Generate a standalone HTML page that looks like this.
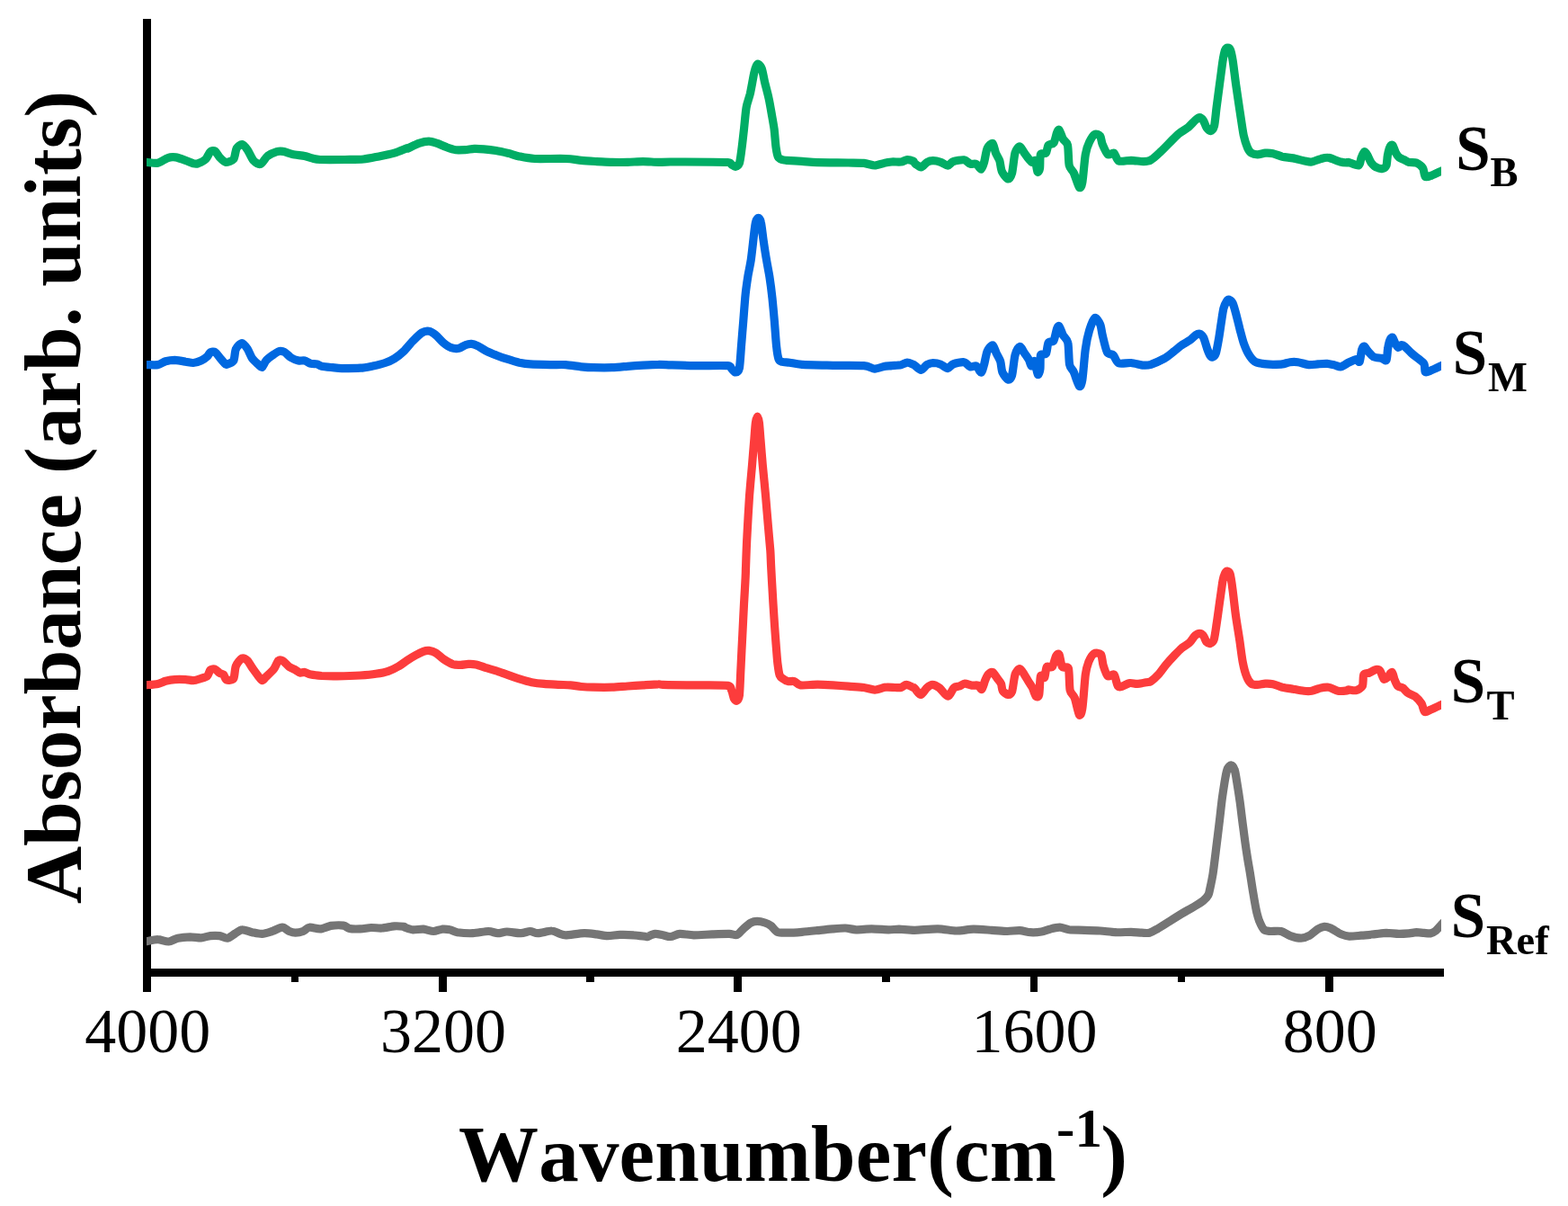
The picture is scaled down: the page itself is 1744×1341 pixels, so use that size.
<!DOCTYPE html>
<html lang="en">
<head>
<meta charset="utf-8">
<title>Absorbance vs Wavenumber</title>
<style>
html,body{margin:0;padding:0;background:#fff;}
body{width:1744px;height:1341px;overflow:hidden;}
svg{display:block;}
</style>
</head>
<body>
<svg width="1744" height="1341" viewBox="0 0 1744 1341">
<rect width="1744" height="1341" fill="#ffffff"/>
<g fill="#000000" shape-rendering="crispEdges">
<rect x="159" y="21" width="9" height="1081.5"/>
<rect x="159" y="1077" width="1447" height="9"/>
<rect x="488" y="1077" width="9" height="25.5"/>
<rect x="816" y="1077" width="9" height="25.5"/>
<rect x="1146" y="1077" width="8" height="25.5"/>
<rect x="1474" y="1077" width="9" height="25.5"/>
<rect x="324" y="1077" width="8" height="15"/>
<rect x="652" y="1077" width="9" height="15"/>
<rect x="981" y="1077" width="9" height="15"/>
<rect x="1310" y="1077" width="8" height="15"/>
</g>
<clipPath id="clip"><rect x="163.1" y="0" width="1440" height="1090"/></clipPath>
<g fill="none" stroke-width="9.2" stroke-linejoin="round" stroke-linecap="butt" clip-path="url(#clip)">
<path stroke="#757575" d="M155.1,1048.0C156.2,1047.8 160.4,1047.1 163.1,1046.7C165.8,1046.2 172.2,1044.5 175.5,1044.6C178.7,1044.6 184.5,1047.2 187.5,1047.0C190.5,1046.8 194.6,1043.9 197.8,1043.2C201.1,1042.5 208.2,1041.9 211.6,1041.8C215.0,1041.8 220.7,1043.0 223.6,1042.9C226.6,1042.7 231.2,1040.9 234.0,1040.6C236.7,1040.3 241.8,1040.3 244.3,1040.6C246.8,1041.0 250.6,1043.6 252.9,1043.2C255.2,1042.9 259.3,1039.3 261.5,1038.1C263.7,1036.8 266.7,1033.9 269.2,1033.8C271.8,1033.6 277.4,1036.1 280.4,1036.7C283.4,1037.3 288.6,1038.6 291.6,1038.4C294.6,1038.2 299.8,1036.4 302.8,1035.5C305.8,1034.5 311.4,1031.2 314.0,1031.2C316.5,1031.2 319.7,1034.7 321.7,1035.5C323.6,1036.3 326.5,1037.2 328.6,1037.2C330.6,1037.2 335.1,1036.3 337.2,1035.5C339.2,1034.7 341.5,1031.5 344.1,1031.2C346.6,1030.8 352.9,1033.1 356.1,1032.9C359.3,1032.7 364.7,1030.0 368.1,1029.4C371.6,1028.9 379.2,1028.7 381.9,1029.1C384.7,1029.5 386.3,1032.0 388.8,1032.5C391.3,1033.1 397.6,1033.0 400.8,1032.9C404.0,1032.8 409.7,1031.6 412.9,1031.5C416.1,1031.4 421.5,1032.3 424.9,1032.0C428.3,1031.8 435.5,1030.0 438.7,1029.8C441.9,1029.6 447.4,1030.1 449.0,1030.3C450.3,1030.5 449.0,1030.7 450.3,1031.2C451.6,1031.6 456.2,1033.5 458.9,1033.8C461.7,1034.0 467.9,1033.0 471.0,1033.2C474.1,1033.5 479.4,1035.5 482.1,1035.5C484.9,1035.5 489.2,1033.5 491.6,1033.2C494.0,1033.0 497.9,1033.3 500.2,1033.8C502.5,1034.2 505.4,1036.1 508.8,1036.7C512.2,1037.2 521.4,1037.9 526.0,1037.7C530.6,1037.5 539.5,1035.5 543.2,1035.5C546.9,1035.5 550.8,1037.6 553.5,1037.7C556.3,1037.8 560.4,1036.0 563.9,1036.0C567.3,1036.0 575.9,1037.8 579.3,1037.7C582.8,1037.6 587.1,1035.5 589.7,1035.5C592.2,1035.5 595.0,1037.8 598.3,1037.7C601.5,1037.6 610.5,1034.9 613.7,1035.0C616.9,1035.0 620.3,1037.4 622.3,1038.1C624.4,1038.7 625.6,1039.8 629.2,1039.8C632.9,1039.7 645.3,1037.8 649.9,1037.7C654.4,1037.6 660.2,1038.5 663.6,1038.9C667.1,1039.3 672.2,1040.6 675.7,1040.6C679.1,1040.7 685.5,1039.5 689.4,1039.4C693.3,1039.3 701.0,1039.5 704.9,1039.8C708.8,1040.0 716.7,1041.3 718.7,1041.5C720.0,1041.7 718.7,1041.9 720.0,1041.5C721.3,1041.1 726.3,1038.6 728.6,1038.4C730.9,1038.2 734.9,1039.4 737.2,1039.8C739.5,1040.2 743.3,1041.7 745.8,1041.5C748.3,1041.3 752.7,1038.6 756.1,1038.4C759.6,1038.2 766.8,1039.7 771.6,1039.8C776.4,1039.8 787.0,1039.1 792.2,1038.9C797.5,1038.7 807.5,1038.3 811.2,1038.4C814.8,1038.5 817.7,1040.2 819.8,1039.4C821.8,1038.7 824.6,1034.7 826.7,1032.9C828.7,1031.1 833.2,1027.2 835.3,1026.0C837.3,1024.9 840.1,1024.3 842.1,1024.3C844.2,1024.3 848.7,1025.3 850.7,1026.0C852.8,1026.7 855.8,1028.1 857.6,1029.4C859.4,1030.8 862.2,1035.3 864.5,1036.3C866.8,1037.4 871.1,1037.2 874.8,1037.2C878.5,1037.2 887.4,1036.7 892.0,1036.3C896.6,1036.0 904.6,1035.1 909.2,1034.6C913.8,1034.2 922.3,1033.2 926.4,1032.9C930.6,1032.5 936.7,1031.9 940.2,1032.0C943.6,1032.1 948.3,1033.6 952.2,1033.8C956.1,1033.9 964.6,1032.9 969.4,1032.9C974.2,1032.9 984.3,1033.7 988.3,1033.8C992.4,1033.8 996.2,1033.2 1000.0,1033.2C1003.8,1033.3 1011.5,1034.3 1017.2,1034.3C1022.9,1034.2 1036.8,1032.8 1043.0,1032.9C1049.2,1033.0 1058.4,1034.9 1063.6,1035.0C1068.9,1035.0 1077.3,1033.3 1082.6,1033.2C1087.8,1033.1 1098.2,1034.0 1103.2,1034.3C1108.3,1034.6 1116.3,1035.4 1120.4,1035.5C1124.5,1035.5 1130.7,1034.4 1134.2,1034.6C1137.6,1034.8 1143.0,1036.5 1146.2,1036.7C1149.4,1036.9 1155.3,1036.5 1158.3,1036.0C1161.2,1035.5 1165.8,1033.5 1168.6,1032.9C1171.3,1032.2 1176.1,1031.1 1178.9,1031.2C1181.7,1031.3 1185.6,1033.3 1189.2,1033.8C1192.9,1034.2 1201.8,1034.1 1206.4,1034.3C1211.0,1034.4 1219.0,1034.6 1223.6,1035.0C1228.2,1035.3 1236.2,1036.5 1240.8,1036.7C1245.4,1036.9 1254.1,1036.3 1258.0,1036.3C1261.9,1036.4 1267.3,1037.1 1270.0,1037.2C1272.7,1037.3 1276.3,1037.8 1278.6,1037.2C1280.9,1036.6 1284.2,1034.6 1287.2,1032.9C1290.2,1031.2 1297.3,1026.6 1301.0,1024.3C1304.6,1022.0 1311.1,1017.9 1314.7,1015.7C1318.4,1013.5 1325.3,1009.9 1328.5,1007.9C1331.7,1006.0 1336.7,1002.8 1338.8,1001.1C1340.9,999.3 1343.1,996.7 1344.0,995.0C1344.9,993.4 1345.0,991.7 1345.7,988.6C1346.4,985.4 1348.2,977.3 1349.1,971.4C1350.0,965.4 1351.7,951.2 1352.6,943.9C1353.5,936.5 1355.1,923.9 1356.0,916.3C1356.9,908.8 1358.5,894.0 1359.4,887.1C1360.4,880.2 1362.1,869.1 1362.9,864.7C1363.7,860.4 1364.6,856.2 1365.5,854.4C1366.3,852.6 1368.4,850.7 1369.4,851.0C1370.5,851.2 1372.4,853.6 1373.2,856.1C1374.1,858.6 1375.0,865.1 1375.8,869.9C1376.6,874.7 1378.3,885.6 1379.2,892.2C1380.1,898.9 1381.6,912.0 1382.7,919.8C1383.7,927.6 1385.9,943.9 1387.0,950.7C1388.0,957.6 1389.5,965.3 1390.4,971.0C1391.3,976.6 1392.9,987.8 1393.9,993.3C1394.8,998.8 1396.4,1008.1 1397.3,1012.2C1398.2,1016.4 1399.6,1021.4 1400.7,1024.3C1401.9,1027.2 1404.3,1032.3 1405.9,1033.8C1407.5,1035.2 1410.3,1035.2 1412.8,1035.5C1415.3,1035.7 1421.8,1034.8 1424.8,1035.5C1427.8,1036.2 1432.2,1039.6 1435.1,1040.6C1438.1,1041.7 1444.4,1043.2 1447.2,1043.2C1449.9,1043.2 1453.3,1042.0 1455.8,1040.6C1458.3,1039.3 1463.8,1034.3 1466.1,1032.9C1468.4,1031.5 1471.1,1030.4 1473.0,1030.3C1474.8,1030.2 1477.3,1030.9 1479.9,1032.0C1482.4,1033.2 1489.2,1037.7 1491.9,1038.9C1494.7,1040.1 1497.6,1041.0 1500.5,1041.1C1503.4,1041.3 1510.3,1040.5 1514.0,1040.2C1517.7,1039.9 1524.3,1039.2 1528.0,1038.8C1531.7,1038.5 1538.2,1037.5 1542.0,1037.4C1545.7,1037.4 1552.6,1038.4 1556.0,1038.4C1559.3,1038.5 1564.5,1038.1 1567.2,1037.9C1569.8,1037.6 1573.3,1036.8 1575.6,1036.7C1577.8,1036.7 1581.9,1037.3 1583.9,1037.4C1586.0,1037.6 1589.3,1038.1 1590.9,1037.9C1592.6,1037.6 1594.9,1036.6 1596.5,1035.3C1598.2,1034.1 1601.2,1030.4 1603.1,1028.3C1605.1,1026.3 1610.0,1021.0 1611.1,1019.8"/>
<path stroke="#fc3c3c" d="M155.1,762.4C156.2,762.3 160.4,761.9 163.1,761.6C165.8,761.4 172.7,761.0 175.5,760.4C178.3,759.8 181.6,758.0 184.1,757.3C186.6,756.7 191.4,755.8 194.4,755.6C197.4,755.4 203.7,755.5 206.4,755.6C209.2,755.7 212.8,756.8 215.0,756.6C217.3,756.5 221.6,755.0 223.6,754.4C225.7,753.8 229.2,753.1 230.5,751.8C231.9,750.6 232.8,746.0 234.0,744.9C235.1,743.9 237.8,743.6 239.1,744.1C240.5,744.5 243.0,747.6 244.3,748.4C245.6,749.2 247.6,749.1 248.6,750.1C249.6,751.1 250.5,755.5 252.0,756.1C253.5,756.7 258.4,756.5 259.8,754.4C261.1,752.3 261.1,743.6 262.4,740.6C263.6,737.6 267.5,732.8 269.2,732.0C271.0,731.2 273.8,733.2 275.3,734.6C276.7,736.0 278.8,740.1 280.4,742.4C282.0,744.6 285.8,749.9 287.3,751.8C288.8,753.7 290.4,756.5 291.6,756.6C292.7,756.7 294.2,754.3 295.9,752.7C297.6,751.0 302.7,746.5 304.5,744.1C306.3,741.7 308.3,735.8 309.7,734.6C311.0,733.4 313.2,734.0 314.8,735.0C316.4,735.9 319.9,740.2 321.7,741.5C323.5,742.8 327.0,744.1 328.6,744.9C330.2,745.8 332.4,747.7 333.7,748.0C335.1,748.4 337.3,747.2 338.9,747.5C340.5,747.8 343.3,749.6 345.8,750.1C348.3,750.6 353.9,751.2 357.8,751.5C361.7,751.7 369.3,751.9 375.0,751.8C380.8,751.7 395.1,751.3 400.8,751.0C406.6,750.6 413.9,749.9 418.0,749.2C422.2,748.6 428.3,747.5 431.8,746.3C435.2,745.2 441.1,742.2 443.8,740.6C446.6,739.1 450.0,736.2 452.4,734.6C454.9,733.0 459.9,730.0 462.4,728.6C464.8,727.2 469.0,725.0 471.0,724.3C472.9,723.6 475.1,723.2 477.0,723.4C478.8,723.7 482.5,724.7 484.7,726.0C486.9,727.3 490.8,731.2 493.3,732.9C495.8,734.6 501.1,737.7 503.6,738.6C506.2,739.4 510.0,739.4 512.2,739.4C514.5,739.4 518.6,738.5 520.8,738.4C523.1,738.3 526.9,738.4 529.4,738.9C532.0,739.4 536.8,741.4 539.8,742.4C542.8,743.3 548.6,744.8 551.8,745.8C555.0,746.8 560.4,748.9 563.9,750.1C567.3,751.3 573.9,753.8 577.6,754.9C581.3,756.1 587.7,758.0 591.4,758.7C595.0,759.4 601.2,760.1 605.1,760.4C609.0,760.8 616.7,761.1 620.6,761.3C624.5,761.5 630.9,761.5 634.4,761.8C637.8,762.1 643.0,763.2 646.4,763.5C649.9,763.8 655.6,764.1 660.2,764.2C664.8,764.3 675.8,764.4 680.8,764.2C685.9,764.0 693.4,763.3 698.0,763.0C702.6,762.7 710.6,762.1 715.2,761.8C719.8,761.5 729.5,760.8 732.4,760.8C735.4,760.7 732.4,761.2 737.2,761.4C742.4,761.6 762.0,761.8 771.6,761.9C781.2,762.1 803.8,761.6 809.4,762.4C813.8,763.2 812.8,766.1 813.8,767.9C814.7,769.8 815.6,775.0 816.3,776.5C817.1,778.0 818.6,779.6 819.4,779.1C820.2,778.7 821.7,778.3 822.4,773.1C823.0,767.9 823.6,749.4 824.1,740.4C824.5,731.5 825.3,715.2 825.8,706.0C826.2,696.8 827.1,680.3 827.5,671.6C828.0,662.9 829.0,646.3 829.2,640.6C829.5,635.0 829.3,635.3 829.6,629.2C829.8,623.1 830.4,605.1 831.0,594.8C831.5,584.5 832.8,562.1 833.5,551.8C834.3,541.5 835.7,525.9 836.5,517.4C837.2,508.9 838.3,494.5 838.9,488.2C839.4,481.9 839.9,473.4 840.4,470.1C840.9,466.8 841.9,463.2 842.5,463.2C843.0,463.2 843.9,466.8 844.4,470.1C844.8,473.4 845.4,481.9 845.9,488.2C846.4,494.5 847.6,508.9 848.3,517.4C849.1,525.9 850.8,542.6 851.6,551.8C852.4,561.0 853.8,578.2 854.5,586.2C855.2,594.2 856.3,606.3 856.8,612.0C857.2,617.8 857.3,623.6 857.6,629.2C857.9,634.9 858.5,646.5 859.0,654.4C859.4,662.3 860.5,680.6 861.1,688.8C861.6,697.1 862.6,709.9 863.1,716.3C863.6,722.8 864.3,732.4 864.8,737.0C865.4,741.6 866.2,748.3 867.1,750.7C867.9,753.1 870.1,754.1 871.4,755.0C872.6,756.0 874.9,757.3 876.5,757.6C878.1,758.0 881.6,757.0 883.4,757.6C885.3,758.2 886.9,761.5 890.3,761.9C893.7,762.4 904.4,761.1 909.2,761.1C914.0,761.1 921.8,761.6 926.4,761.9C931.0,762.2 939.0,762.8 943.6,763.1C948.2,763.5 956.9,764.0 960.8,764.5C964.7,765.0 969.7,767.1 972.9,767.1C976.1,767.0 981.9,764.5 984.9,764.2C987.9,763.8 992.9,764.4 995.2,764.5C997.5,764.5 1000.4,764.9 1002.1,764.5C1003.8,764.1 1006.3,761.4 1008.1,761.4C1010.0,761.4 1014.7,764.0 1015.9,764.5C1017.1,765.0 1016.1,764.2 1017.2,765.2C1018.3,766.3 1022.2,772.5 1024.1,772.5C1025.9,772.4 1029.2,766.2 1031.0,764.7C1032.7,763.2 1035.1,761.3 1037.0,761.3C1038.8,761.3 1042.4,763.0 1044.7,764.7C1047.0,766.4 1052.0,774.2 1054.2,774.2C1056.4,774.2 1059.3,766.2 1061.1,764.7C1062.8,763.2 1065.5,763.6 1067.1,763.0C1068.7,762.4 1071.3,760.2 1073.1,760.1C1074.9,760.0 1078.9,761.9 1080.8,762.1C1082.8,762.4 1086.2,761.6 1087.7,762.1C1089.2,762.7 1091.0,767.1 1092.0,766.4C1093.1,765.7 1094.6,759.2 1095.5,757.0C1096.4,754.8 1097.8,751.4 1098.9,750.1C1100.1,748.8 1102.7,746.9 1104.1,747.5C1105.4,748.1 1108.0,752.7 1109.2,754.4C1110.5,756.1 1112.7,758.6 1113.5,760.4C1114.3,762.2 1114.2,766.5 1115.3,768.2C1116.3,769.8 1119.9,772.3 1121.3,772.5C1122.6,772.6 1124.5,772.0 1125.6,769.0C1126.6,766.0 1127.9,753.5 1129.0,750.1C1130.2,746.7 1132.8,743.6 1134.2,743.6C1135.6,743.6 1138.0,748.1 1139.3,750.1C1140.7,752.1 1143.3,756.9 1144.5,758.7C1145.6,760.5 1146.9,761.8 1147.9,763.9C1149.0,765.9 1151.2,773.0 1152.2,774.2C1153.3,775.3 1155.0,775.4 1155.7,772.5C1156.4,769.5 1156.6,754.3 1157.4,751.8C1158.2,749.3 1160.8,754.9 1161.7,753.5C1162.6,752.2 1163.1,743.1 1164.3,741.5C1165.4,739.9 1168.9,743.1 1170.3,741.5C1171.7,739.9 1173.6,731.3 1174.6,729.4C1175.6,727.6 1177.1,726.1 1178.0,727.7C1179.0,729.3 1180.1,739.4 1181.5,741.5C1182.9,743.6 1187.2,739.8 1188.4,743.2C1189.5,746.7 1189.2,762.9 1190.1,767.3C1191.0,771.7 1193.9,772.2 1195.2,775.9C1196.6,779.6 1199.3,793.2 1200.4,794.8C1201.5,796.4 1202.9,793.9 1203.8,787.9C1204.8,782.0 1206.4,757.0 1207.3,750.1C1208.2,743.2 1209.5,739.4 1210.7,736.3C1212.0,733.2 1214.9,728.0 1216.7,726.9C1218.6,725.7 1223.1,726.0 1224.5,727.7C1225.9,729.4 1226.0,736.6 1227.1,739.8C1228.1,743.0 1230.6,750.4 1232.2,751.8C1233.8,753.2 1237.6,748.6 1239.1,750.1C1240.6,751.6 1242.1,761.3 1243.4,763.0C1244.7,764.7 1246.8,763.5 1248.6,763.0C1250.3,762.5 1254.1,759.9 1256.3,759.6C1258.5,759.2 1262.4,760.5 1264.9,760.4C1267.4,760.3 1273.2,759.1 1275.2,758.7C1277.2,758.3 1278.2,758.8 1280.0,757.6C1281.8,756.4 1286.3,752.4 1288.6,749.9C1290.9,747.4 1294.9,741.4 1297.2,738.7C1299.5,735.9 1303.5,731.6 1305.8,729.2C1308.1,726.8 1312.1,722.6 1314.4,720.6C1316.7,718.7 1321.1,716.4 1323.0,714.6C1325.0,712.8 1327.5,708.2 1329.0,706.9C1330.5,705.5 1332.9,704.3 1334.2,704.3C1335.4,704.3 1337.5,705.6 1338.5,706.9C1339.5,708.1 1340.9,712.6 1341.9,713.8C1343.0,714.9 1345.1,715.8 1346.2,715.5C1347.3,715.1 1349.3,714.0 1350.2,711.2C1351.1,708.3 1352.3,699.5 1353.1,694.0C1354.0,688.5 1355.6,676.3 1356.5,669.9C1357.5,663.5 1359.2,650.2 1360.0,645.8C1360.8,641.4 1361.9,638.6 1362.6,637.2C1363.3,635.8 1364.4,635.0 1365.1,635.1C1365.9,635.3 1367.3,635.5 1368.1,638.1C1368.8,640.6 1370.0,648.1 1370.8,654.4C1371.7,660.7 1373.5,677.6 1374.6,685.4C1375.7,693.2 1377.9,706.0 1378.9,712.9C1379.9,719.8 1381.3,731.7 1382.4,737.0C1383.4,742.2 1385.4,749.4 1386.7,752.5C1387.9,755.6 1390.2,759.0 1391.8,760.2C1393.4,761.4 1396.6,761.4 1398.7,761.4C1400.8,761.4 1405.0,760.3 1407.3,760.2C1409.6,760.1 1413.4,760.2 1415.9,760.7C1418.4,761.2 1423.2,763.4 1426.2,764.2C1429.2,764.9 1435.0,765.7 1438.3,766.2C1441.5,766.8 1447.5,768.0 1450.3,768.3C1453.1,768.6 1456.6,768.7 1458.9,768.3C1461.2,767.9 1465.0,765.9 1467.5,765.4C1470.0,764.8 1475.1,763.8 1477.8,764.2C1480.6,764.5 1485.4,767.8 1488.1,768.3C1490.9,768.8 1496.9,768.1 1498.5,767.9C1500.0,767.8 1498.7,767.0 1500.0,766.9C1501.3,766.9 1506.3,768.2 1508.4,767.6C1510.4,767.1 1514.3,765.1 1515.4,762.8C1516.5,760.4 1515.8,752.1 1516.8,750.2C1517.8,748.2 1521.3,748.8 1523.1,748.1C1524.9,747.3 1528.5,744.8 1530.1,744.6C1531.7,744.3 1533.8,744.6 1535.0,746.0C1536.2,747.4 1538.1,754.1 1539.2,755.1C1540.3,756.0 1542.2,754.0 1543.4,753.0C1544.6,751.9 1547.2,747.0 1548.3,747.4C1549.3,747.7 1550.2,753.7 1551.1,755.8C1551.9,757.8 1553.4,761.5 1554.6,762.8C1555.8,764.0 1558.7,763.8 1560.2,764.9C1561.7,765.9 1563.9,769.1 1565.8,770.4C1567.6,771.8 1572.1,773.1 1574.2,774.6C1576.2,776.2 1579.7,780.1 1581.1,782.3C1582.5,784.6 1583.3,790.5 1584.6,791.4C1586.0,792.4 1588.5,790.4 1590.9,789.3C1593.4,788.3 1600.4,785.0 1603.1,783.7C1605.8,782.5 1610.0,780.6 1611.1,780.1"/>
<path stroke="#0068e0" d="M155.1,405.6C156.2,405.6 160.4,405.6 163.1,405.6C165.8,405.6 172.7,406.1 175.5,405.6C178.3,405.1 181.6,402.5 184.1,401.8C186.6,401.1 191.4,400.4 194.4,400.4C197.4,400.5 203.7,401.7 206.4,402.2C209.2,402.6 212.8,403.7 215.0,403.5C217.3,403.4 221.6,401.9 223.6,401.0C225.7,400.0 229.2,397.5 230.5,396.3C231.9,395.1 232.8,392.5 234.0,391.8C235.1,391.2 237.8,390.7 239.1,391.5C240.5,392.2 242.9,395.9 244.3,397.5C245.7,399.1 248.4,402.5 249.4,403.5C250.5,404.6 250.7,405.6 252.0,405.3C253.4,404.9 258.4,403.2 259.8,401.0C261.1,398.7 261.1,390.6 262.4,388.1C263.6,385.5 267.5,381.5 269.2,381.5C271.0,381.5 273.8,385.8 275.3,388.1C276.7,390.3 278.8,396.1 280.4,398.4C282.0,400.7 285.8,403.9 287.3,405.3C288.8,406.6 290.4,408.9 291.6,408.3C292.7,407.8 294.2,402.9 295.9,401.0C297.6,399.0 302.5,395.4 304.5,394.1C306.4,392.7 308.9,391.0 310.5,390.6C312.1,390.3 314.8,390.6 316.5,391.5C318.3,392.4 321.4,396.2 323.4,397.5C325.5,398.8 330.0,400.5 332.0,401.0C334.1,401.4 337.1,400.5 338.9,401.0C340.7,401.4 343.9,403.9 345.8,404.4C347.6,404.9 351.1,404.5 352.7,404.9C354.3,405.3 355.5,406.8 357.8,407.3C360.1,407.8 366.9,408.4 369.9,408.7C372.8,409.0 376.1,409.5 380.2,409.6C384.3,409.6 396.2,409.6 400.8,409.2C405.4,408.9 410.9,407.7 414.6,407.0C418.3,406.2 425.1,404.6 428.3,403.5C431.6,402.4 435.9,400.4 438.7,398.7C441.4,397.0 446.3,393.2 449.0,390.6C451.7,388.1 456.2,382.2 458.9,379.4C461.6,376.7 466.8,371.5 469.2,370.0C471.7,368.5 474.9,367.9 477.0,368.3C479.0,368.6 482.5,370.8 484.7,372.6C486.9,374.3 491.0,379.3 493.3,381.2C495.6,383.1 499.6,385.9 501.9,386.7C504.2,387.5 508.5,387.6 510.5,387.2C512.6,386.8 515.6,384.4 517.4,383.8C519.2,383.1 522.5,382.3 524.3,382.4C526.1,382.5 528.9,383.5 531.2,384.6C533.5,385.7 538.7,389.3 541.5,390.6C544.2,392.0 548.8,393.8 551.8,394.9C554.8,396.1 560.4,398.1 563.9,399.2C567.3,400.3 574.2,402.4 577.6,403.2C581.1,403.9 585.1,404.6 589.7,404.9C594.2,405.2 606.7,405.5 612.0,405.6C617.3,405.7 624.6,405.3 629.2,405.6C633.8,405.9 642.3,407.4 646.4,407.8C650.6,408.2 655.6,408.6 660.2,408.7C664.8,408.8 675.8,408.9 680.8,408.7C685.9,408.5 693.4,407.7 698.0,407.3C702.6,407.0 710.6,406.4 715.2,406.1C719.8,405.8 728.4,405.3 732.4,405.3C736.5,405.2 740.6,405.6 745.8,405.8C751.0,406.0 763.1,406.5 771.6,406.6C780.1,406.8 803.8,406.2 809.4,406.6C813.8,407.1 812.6,409.1 813.8,410.1C814.9,411.1 816.9,414.2 818.1,414.0C819.2,413.9 821.5,413.3 822.4,409.2C823.2,405.1 824.0,390.3 824.6,383.4C825.2,376.5 826.0,365.2 826.7,357.6C827.3,350.0 828.5,333.3 829.2,326.7C829.9,320.0 831.0,312.8 831.8,307.7C832.6,302.7 834.4,294.8 835.3,288.8C836.1,282.8 837.7,268.5 838.3,263.0C839.0,257.5 839.7,250.3 840.4,247.5C841.1,244.8 842.7,242.4 843.5,242.4C844.3,242.4 845.7,244.3 846.4,247.5C847.2,250.7 848.2,260.9 849.0,266.4C849.8,271.9 851.5,283.3 852.5,288.8C853.4,294.3 855.0,302.0 855.9,307.7C856.8,313.5 858.3,325.2 859.0,331.8C859.7,338.5 860.8,350.5 861.4,357.6C862.0,364.7 863.0,379.6 863.6,385.1C864.2,390.6 865.1,396.6 865.9,398.9C866.7,401.2 868.0,401.8 869.7,402.3C871.3,402.9 875.3,402.8 878.3,403.2C881.2,403.6 885.6,405.0 892.0,405.4C898.4,405.8 917.2,406.1 926.4,406.3C935.6,406.5 954.6,406.1 960.8,406.6C967.0,407.1 969.9,410.0 972.9,410.1C975.8,410.2 980.7,408.0 983.2,407.5C985.7,407.0 989.3,406.9 991.8,406.6C994.3,406.4 999.8,406.2 1002.1,405.8C1004.4,405.3 1007.2,403.2 1009.0,403.2C1010.8,403.2 1014.8,405.0 1015.9,405.4C1017.0,405.8 1016.1,405.3 1017.2,406.1C1018.3,406.9 1022.6,411.3 1024.4,411.3C1026.3,411.2 1029.2,406.6 1031.0,405.6C1032.8,404.6 1035.8,403.6 1037.8,403.5C1039.9,403.5 1044.3,404.4 1046.4,405.3C1048.6,406.1 1052.4,409.6 1054.2,409.6C1056.0,409.5 1057.8,405.8 1060.2,404.9C1062.6,404.0 1069.7,402.3 1072.2,402.7C1074.8,403.1 1077.3,407.3 1079.1,407.8C1081.0,408.4 1084.4,406.1 1086.0,407.0C1087.6,407.8 1090.0,414.4 1091.2,414.2C1092.3,414.0 1093.7,408.4 1094.6,405.3C1095.5,402.1 1096.8,393.5 1098.1,390.6C1099.3,387.8 1102.7,383.4 1104.1,383.8C1105.4,384.1 1107.2,390.8 1108.4,393.2C1109.5,395.6 1111.8,399.1 1112.7,401.8C1113.5,404.6 1113.8,411.1 1114.9,413.9C1116.1,416.6 1119.9,421.7 1121.3,422.1C1122.7,422.6 1124.5,420.9 1125.6,417.3C1126.6,413.7 1127.9,399.2 1129.0,394.9C1130.2,390.7 1132.8,385.8 1134.2,385.5C1135.6,385.1 1138.0,390.4 1139.3,392.4C1140.7,394.3 1143.5,398.1 1144.5,400.1C1145.5,402.0 1146.3,406.7 1147.1,407.0C1147.9,407.2 1149.6,400.6 1150.5,401.8C1151.5,403.1 1153.5,415.3 1154.3,416.4C1155.1,417.6 1156.5,413.3 1156.9,410.4C1157.3,407.5 1156.9,397.2 1157.4,394.9C1158.3,392.6 1162.3,395.0 1163.4,393.2C1164.6,391.4 1164.9,383.1 1166.0,381.2C1167.1,379.2 1170.8,380.7 1172.0,378.6C1173.3,376.5 1174.7,367.8 1175.5,365.7C1176.3,363.6 1177.1,361.7 1178.0,362.6C1179.0,363.5 1181.0,370.1 1182.3,372.6C1183.6,375.0 1186.9,376.8 1187.8,381.2C1188.8,385.5 1188.7,400.9 1189.6,405.3C1190.4,409.6 1192.9,410.6 1194.4,413.9C1195.8,417.1 1199.1,428.2 1200.4,429.3C1201.7,430.5 1202.9,428.0 1203.8,422.5C1204.8,416.9 1206.2,395.4 1207.3,388.1C1208.3,380.7 1210.2,372.0 1211.6,367.4C1213.0,362.8 1216.0,354.6 1217.6,353.6C1219.2,352.7 1222.5,358.0 1223.6,360.5C1224.8,363.1 1225.2,368.4 1226.2,372.6C1227.2,376.7 1229.8,388.5 1231.4,391.5C1233.0,394.5 1236.5,393.3 1238.2,394.9C1240.0,396.6 1241.6,402.7 1244.3,403.9C1246.9,405.0 1254.4,403.2 1258.0,403.5C1261.7,403.8 1268.9,405.9 1271.8,406.1C1274.7,406.3 1276.8,406.3 1280.0,405.3C1283.2,404.2 1292.0,400.3 1295.5,398.4C1298.9,396.4 1303.3,392.6 1305.8,390.6C1308.3,388.7 1312.1,385.4 1314.4,383.8C1316.7,382.1 1320.9,380.1 1323.0,378.6C1325.1,377.1 1328.4,373.6 1329.9,372.6C1331.4,371.6 1333.0,370.8 1334.2,371.2C1335.3,371.5 1337.3,372.9 1338.5,375.1C1339.6,377.4 1341.8,385.3 1342.8,388.1C1343.8,390.8 1345.4,394.6 1346.2,395.8C1347.0,397.0 1348.0,397.3 1348.8,397.0C1349.6,396.7 1351.3,396.0 1352.2,393.2C1353.2,390.4 1354.9,380.6 1355.7,376.0C1356.5,371.4 1357.6,363.2 1358.3,358.8C1359.0,354.4 1360.0,346.5 1360.8,343.3C1361.7,340.2 1363.4,336.4 1364.3,335.1C1365.2,333.7 1366.5,333.1 1367.4,333.3C1368.3,333.6 1370.2,335.3 1371.2,337.3C1372.1,339.3 1373.6,344.7 1374.6,348.5C1375.6,352.3 1377.8,361.3 1378.9,365.7C1380.1,370.0 1381.9,377.5 1383.2,381.2C1384.5,384.8 1386.8,390.5 1388.4,393.2C1390.0,396.0 1393.2,400.3 1395.3,401.8C1397.3,403.3 1401.1,403.9 1403.9,404.4C1406.6,404.9 1412.9,405.2 1415.9,405.3C1418.9,405.3 1423.7,405.3 1426.2,404.9C1428.7,404.6 1432.5,403.0 1434.8,402.7C1437.1,402.4 1440.7,402.3 1443.4,402.7C1446.2,403.1 1452.5,405.3 1455.5,405.6C1458.4,405.9 1463.0,405.1 1465.8,404.9C1468.5,404.7 1473.6,404.2 1476.1,404.4C1478.6,404.6 1482.6,405.7 1484.7,406.1C1486.8,406.6 1489.5,408.2 1491.6,407.8C1493.6,407.4 1497.9,404.1 1500.2,403.0C1502.5,401.9 1507.2,399.7 1508.8,399.6C1510.4,399.5 1511.4,403.6 1512.2,402.2C1513.0,400.7 1514.0,390.8 1514.7,388.6C1515.4,386.3 1516.6,384.9 1517.5,385.1C1518.3,385.2 1519.6,388.4 1521.0,390.0C1522.4,391.5 1525.9,395.8 1528.0,396.9C1530.0,398.1 1534.5,397.9 1536.4,398.3C1538.2,398.8 1541.0,401.9 1542.0,400.4C1542.9,399.0 1543.1,390.2 1543.7,387.2C1544.2,384.1 1545.5,378.9 1546.2,377.4C1546.9,375.8 1548.2,374.7 1549.0,375.3C1549.7,375.8 1550.9,380.1 1551.8,381.6C1552.6,383.1 1554.3,386.2 1555.3,386.5C1556.2,386.7 1557.7,383.8 1558.8,383.7C1559.8,383.6 1561.5,384.5 1563.0,385.8C1564.5,387.0 1568.1,391.1 1570.0,392.8C1571.8,394.4 1575.1,396.8 1576.9,398.3C1578.8,399.9 1582.8,402.6 1583.9,404.6C1585.1,406.7 1584.4,412.7 1585.3,413.7C1586.3,414.8 1588.6,413.3 1590.9,412.3C1593.3,411.4 1600.4,408.0 1603.1,406.7C1605.8,405.5 1610.0,403.6 1611.1,403.1"/>
<path stroke="#00ad65" d="M155.1,179.9C156.2,179.9 160.4,180.2 163.1,180.4C165.8,180.6 172.3,181.9 175.5,181.3C178.6,180.6 184.0,176.4 186.7,175.6C189.3,174.7 192.6,174.5 195.3,174.9C197.9,175.3 203.8,177.4 206.4,178.3C209.1,179.3 213.2,181.3 215.0,181.8C216.9,182.2 218.4,182.4 220.2,181.8C222.0,181.1 227.0,178.7 228.8,177.0C230.6,175.2 232.6,169.9 234.0,168.7C235.3,167.5 237.8,167.2 239.1,168.0C240.5,168.9 242.7,173.3 244.3,174.9C245.9,176.6 249.1,180.1 251.2,180.4C253.2,180.7 258.2,179.0 259.8,177.0C261.4,174.9 261.9,167.1 263.2,164.9C264.5,162.8 267.6,160.4 269.2,160.6C270.8,160.9 273.5,164.2 275.3,166.7C277.0,169.1 280.2,176.6 282.1,178.7C284.1,180.8 287.8,183.2 289.9,182.5C291.9,181.8 295.2,175.4 297.6,173.5C300.0,171.7 305.6,169.4 307.9,168.7C310.2,168.0 312.5,168.0 314.8,168.4C317.1,168.7 321.9,170.8 325.1,171.5C328.3,172.2 335.9,172.9 338.9,173.5C341.9,174.2 345.2,175.6 347.5,176.1C349.8,176.6 351.3,177.3 356.1,177.5C360.9,177.7 377.2,177.6 383.6,177.5C390.0,177.4 399.2,177.5 404.3,177.0C409.3,176.5 416.9,174.8 421.5,173.9C426.1,173.0 434.5,171.3 438.7,170.1C442.8,168.9 450.4,165.6 452.4,164.9C453.8,164.2 452.4,165.7 453.8,164.9C455.5,164.2 462.7,160.5 465.8,159.4C468.9,158.4 474.2,157.2 477.0,157.2C479.7,157.2 483.8,158.6 486.4,159.4C489.1,160.3 494.0,162.8 496.8,163.7C499.5,164.7 504.3,166.3 507.1,166.7C509.8,167.0 514.7,166.8 517.4,166.7C520.2,166.5 525.0,165.4 527.7,165.3C530.5,165.2 534.8,165.5 538.1,165.8C541.3,166.1 548.1,166.9 551.8,167.5C555.5,168.1 562.1,169.6 565.6,170.4C569.0,171.3 573.7,173.1 577.6,173.9C581.5,174.7 587.9,176.1 594.8,176.5C601.7,176.8 622.3,176.2 629.2,176.5C636.1,176.7 641.8,177.9 646.4,178.3C651.0,178.8 659.0,179.3 663.6,179.6C668.2,179.8 676.2,180.3 680.8,180.4C685.4,180.5 693.4,180.5 698.0,180.4C702.6,180.3 710.6,179.6 715.2,179.6C719.8,179.6 728.4,180.4 732.4,180.4C736.5,180.5 735.5,180.0 745.8,180.0C756.1,180.0 800.4,180.1 809.4,180.5C813.8,180.9 812.6,182.5 813.8,183.1C814.9,183.7 816.9,185.6 818.1,185.3C819.2,185.1 821.4,184.0 822.4,181.4C823.3,178.8 824.2,170.9 824.9,165.9C825.6,160.8 826.8,149.7 827.5,143.5C828.2,137.3 829.2,124.7 830.1,119.4C831.0,114.2 833.2,109.0 834.4,104.0C835.5,98.9 837.8,85.7 838.7,81.6C839.6,77.5 840.6,74.4 841.3,73.0C841.9,71.6 842.7,70.8 843.5,71.3C844.3,71.7 846.3,73.7 847.3,76.4C848.3,79.2 849.7,87.6 850.7,91.9C851.8,96.3 854.0,104.3 855.0,109.1C856.1,113.9 857.7,123.5 858.5,128.1C859.3,132.6 860.4,138.7 861.1,143.5C861.7,148.3 862.5,160.0 863.1,164.2C863.7,168.3 864.5,172.7 865.4,174.5C866.2,176.3 868.4,177.1 869.7,177.6C870.9,178.1 871.8,178.1 874.8,178.3C877.8,178.5 887.4,179.0 892.0,179.3C896.6,179.6 902.3,180.5 909.2,180.7C916.1,180.9 936.7,180.9 943.6,181.0C950.5,181.1 956.9,181.0 960.8,181.4C964.7,181.8 969.9,184.0 972.9,184.0C975.8,184.0 980.7,181.9 983.2,181.4C985.7,180.8 989.3,180.2 991.8,180.0C994.3,179.8 999.8,180.3 1002.1,180.0C1004.4,179.7 1007.2,177.7 1009.0,177.6C1010.8,177.5 1014.8,178.8 1015.9,179.3C1017.0,179.8 1016.1,180.4 1017.2,181.3C1018.3,182.2 1022.6,186.0 1024.4,185.9C1026.3,185.8 1029.2,181.4 1031.0,180.4C1032.8,179.4 1035.8,178.7 1037.8,178.7C1039.9,178.7 1044.3,179.7 1046.4,180.4C1048.6,181.1 1052.4,184.3 1054.2,184.2C1056.0,184.1 1057.8,180.4 1060.2,179.6C1062.6,178.7 1069.7,177.5 1072.2,177.8C1074.8,178.2 1077.3,181.5 1079.1,182.1C1081.0,182.8 1084.4,181.7 1086.0,182.5C1087.6,183.3 1090.0,188.4 1091.2,188.2C1092.3,187.9 1093.7,183.5 1094.6,180.4C1095.5,177.3 1096.8,167.7 1098.1,164.9C1099.3,162.1 1102.8,158.7 1104.1,159.4C1105.3,160.1 1106.5,167.5 1107.5,170.1C1108.5,172.7 1110.9,175.9 1111.8,178.7C1112.7,181.4 1113.1,188.0 1114.4,190.7C1115.7,193.4 1119.8,198.8 1121.3,199.0C1122.8,199.2 1124.5,196.3 1125.6,192.5C1126.6,188.6 1127.9,174.0 1129.0,170.1C1130.2,166.1 1132.8,162.9 1134.2,162.9C1135.6,162.9 1138.0,168.2 1139.3,170.1C1140.7,172.0 1143.3,175.6 1144.5,177.0C1145.6,178.3 1147.0,180.2 1147.9,180.4C1148.9,180.6 1150.6,177.3 1151.4,178.7C1152.2,180.1 1153.3,189.9 1154.0,191.1C1154.6,192.2 1156.1,189.9 1156.5,187.3C1157.0,184.7 1156.5,174.1 1157.4,171.8C1158.3,169.5 1162.3,171.5 1163.4,170.1C1164.6,168.7 1164.9,163.0 1166.0,161.5C1167.1,160.0 1170.8,160.7 1172.0,158.9C1173.3,157.1 1174.7,149.7 1175.5,147.7C1176.3,145.8 1177.1,143.4 1178.0,144.3C1179.0,145.2 1181.1,152.3 1182.3,154.6C1183.6,156.9 1186.6,157.6 1187.5,161.5C1188.4,165.4 1188.3,179.7 1189.2,183.9C1190.1,188.0 1192.9,189.2 1194.4,192.5C1195.9,195.7 1199.1,206.9 1200.4,208.3C1201.7,209.7 1202.9,207.6 1203.8,202.8C1204.8,197.9 1206.2,177.8 1207.3,171.8C1208.3,165.8 1210.2,161.0 1211.6,158.1C1213.0,155.1 1216.0,150.4 1217.6,149.4C1219.2,148.5 1222.5,149.7 1223.6,151.2C1224.8,152.7 1225.1,157.9 1226.2,160.6C1227.4,163.4 1230.5,170.6 1232.2,171.8C1233.9,173.1 1237.5,169.1 1239.1,170.1C1240.7,171.1 1241.7,177.9 1244.3,179.0C1246.8,180.1 1254.4,178.3 1258.0,178.3C1261.7,178.4 1268.9,179.6 1271.8,179.6C1274.7,179.5 1277.5,179.3 1280.0,177.9C1282.5,176.6 1287.6,171.9 1290.3,169.3C1293.1,166.8 1297.9,161.8 1300.6,159.0C1303.4,156.3 1308.2,151.0 1311.0,148.7C1313.7,146.4 1318.9,143.8 1321.3,141.8C1323.7,139.9 1327.3,135.6 1329.0,134.1C1330.7,132.6 1332.9,130.6 1334.2,130.6C1335.4,130.6 1337.5,132.6 1338.5,134.1C1339.5,135.6 1340.9,140.3 1341.9,141.8C1343.0,143.3 1345.1,145.8 1346.2,145.6C1347.4,145.4 1349.6,143.6 1350.5,140.1C1351.4,136.6 1352.3,125.6 1353.1,119.4C1353.9,113.3 1355.6,100.5 1356.5,93.6C1357.5,86.8 1359.2,72.9 1360.0,67.8C1360.8,62.8 1361.8,57.8 1362.6,55.8C1363.3,53.9 1364.7,53.2 1365.5,53.2C1366.3,53.2 1367.8,53.9 1368.6,55.8C1369.3,57.8 1370.4,62.8 1371.2,67.8C1372.0,72.9 1373.6,86.3 1374.6,93.6C1375.6,101.0 1377.8,115.3 1378.9,122.9C1380.1,130.5 1382.1,144.9 1383.2,150.4C1384.4,155.9 1386.4,161.5 1387.5,164.2C1388.7,166.8 1390.3,169.2 1391.8,170.2C1393.3,171.2 1396.6,171.9 1398.7,171.9C1400.8,171.9 1405.0,170.4 1407.3,170.2C1409.6,170.0 1413.4,170.2 1415.9,170.7C1418.4,171.2 1423.2,173.5 1426.2,174.2C1429.2,174.8 1435.0,175.3 1438.3,175.9C1441.5,176.5 1447.5,178.2 1450.3,178.8C1453.1,179.3 1456.4,180.3 1458.9,180.0C1461.4,179.7 1466.7,177.2 1469.2,176.6C1471.7,175.9 1475.1,174.9 1477.8,175.4C1480.6,175.8 1487.1,178.9 1489.9,179.7C1492.6,180.4 1497.1,180.9 1498.5,181.0C1499.8,181.1 1498.5,180.1 1500.0,180.4C1501.7,180.8 1509.3,184.6 1511.2,183.9C1513.1,183.3 1513.2,177.6 1514.0,175.6C1514.8,173.5 1516.6,168.9 1517.5,168.6C1518.4,168.2 1520.0,171.1 1521.0,172.8C1522.0,174.4 1523.9,179.4 1525.2,181.1C1526.5,182.9 1529.1,185.2 1530.8,186.0C1532.5,186.9 1536.3,187.7 1537.8,187.4C1539.3,187.2 1541.2,185.9 1542.0,183.9C1542.7,182.0 1542.8,175.6 1543.4,172.8C1543.9,170.0 1545.4,164.5 1546.2,163.0C1546.9,161.5 1548.1,160.6 1549.0,161.6C1549.8,162.5 1551.5,168.2 1552.5,170.0C1553.4,171.7 1554.8,173.8 1556.0,174.9C1557.2,175.9 1560.1,176.9 1561.6,177.6C1563.1,178.4 1565.3,180.0 1567.2,180.4C1569.0,180.9 1573.5,180.3 1575.6,181.1C1577.6,182.0 1581.2,184.7 1582.5,186.7C1583.9,188.8 1584.0,195.4 1585.3,196.5C1586.6,197.7 1590.0,196.0 1592.3,195.1C1594.7,194.3 1600.6,191.4 1603.1,190.2C1605.6,189.1 1610.0,187.1 1611.1,186.6"/>
</g>
<g font-family="'Liberation Serif', serif" font-size="70" fill="#000" text-anchor="middle">
<text x="164.2" y="1170.2">4000</text>
<text x="492.9" y="1170.2">3200</text>
<text x="821.7" y="1170.2">2400</text>
<text x="1150.5" y="1170.2">1600</text>
<text x="1479.2" y="1170.2">800</text>
</g>
<text x="510" y="1312.6" font-family="'Liberation Serif', serif" font-weight="bold" font-size="89" fill="#000" style="font-kerning:none" letter-spacing="0.2">Wavenumber(cm<tspan font-size="61" dy="-37.5">-1</tspan><tspan dx="-2" dy="37.5">)</tspan></text>
<text transform="translate(88.5,1005) rotate(-90)" font-family="'Liberation Serif', serif" font-weight="bold" font-size="89" fill="#000" style="font-kerning:none" letter-spacing="0.08">Absorbance (arb. units)</text>
<text transform="translate(1619.2 189.1) scale(0.985 1.035)" font-family="'Liberation Serif', serif" font-weight="bold" font-size="70" fill="#000" style="font-kerning:none">S</text>
<text x="1657.5" y="207" font-family="'Liberation Serif', serif" font-weight="bold" font-size="46.5" fill="#000" style="font-kerning:none">B</text>
<text transform="translate(1615.8 415.8) scale(0.985 1.035)" font-family="'Liberation Serif', serif" font-weight="bold" font-size="70" fill="#000" style="font-kerning:none">S</text>
<text x="1655" y="435" font-family="'Liberation Serif', serif" font-weight="bold" font-size="46.5" fill="#000" style="font-kerning:none">M</text>
<text transform="translate(1613.7 780.9) scale(0.985 1.035)" font-family="'Liberation Serif', serif" font-weight="bold" font-size="70" fill="#000" style="font-kerning:none">S</text>
<text x="1653.5" y="799.8" font-family="'Liberation Serif', serif" font-weight="bold" font-size="46.5" fill="#000" style="font-kerning:none">T</text>
<text transform="translate(1613.7 1042.2) scale(0.985 1.035)" font-family="'Liberation Serif', serif" font-weight="bold" font-size="70" fill="#000" style="font-kerning:none">S</text>
<text x="1653" y="1061.2" font-family="'Liberation Serif', serif" font-weight="bold" font-size="46.5" fill="#000" style="font-kerning:none">Ref</text>
</svg>
</body>
</html>
